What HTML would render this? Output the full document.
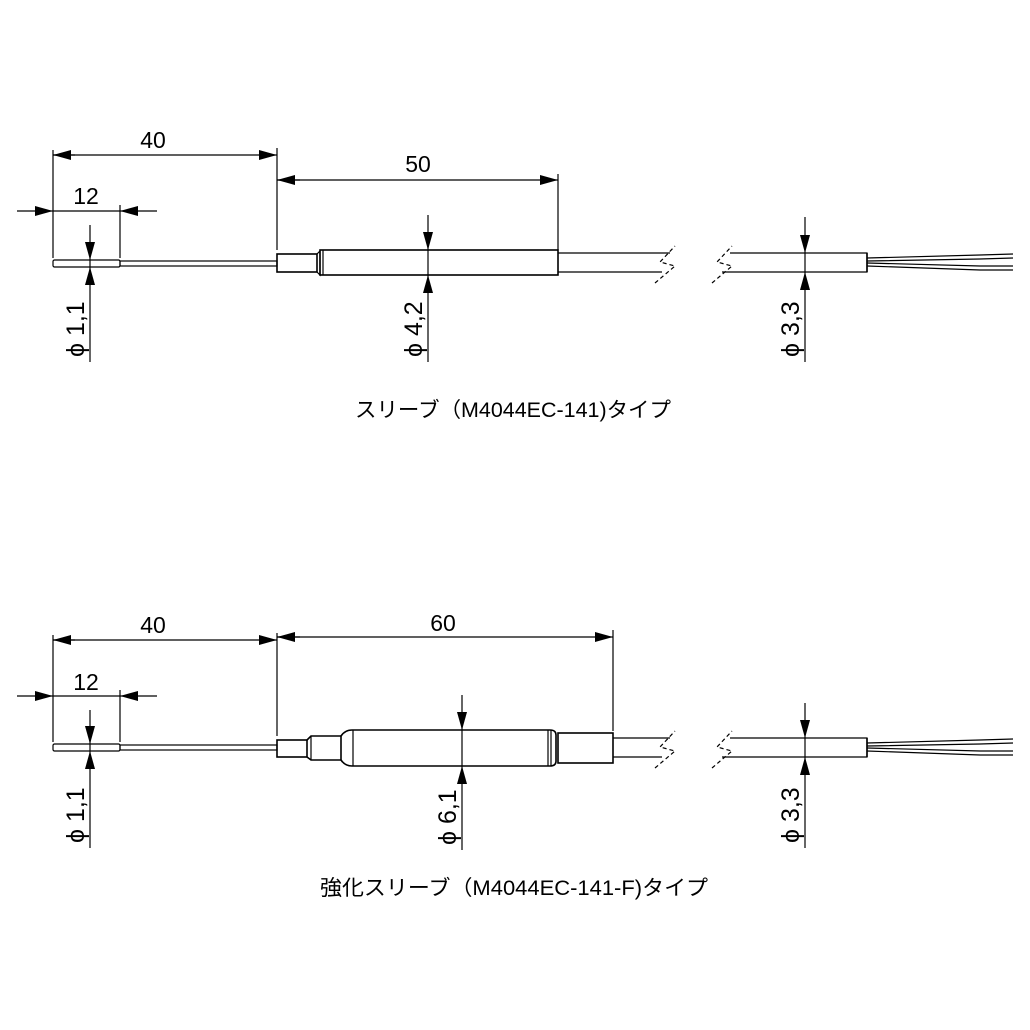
<!DOCTYPE html>
<html><head><meta charset="utf-8"><style>
html,body{margin:0;padding:0;background:#fff;width:1030px;height:1030px;overflow:hidden}
svg text{font-family:"Liberation Sans","Noto Sans CJK JP",sans-serif;fill:#000}
</style></head><body>
<svg width="1030" height="1030" viewBox="0 0 1030 1030" xmlns="http://www.w3.org/2000/svg">
<defs>
<marker id="a" viewBox="0 0 18 10" refX="18" refY="5" markerWidth="18" markerHeight="10" markerUnits="userSpaceOnUse" orient="auto"><path d="M0,0L18,5L0,10z" fill="#000"/></marker>
</defs>
<g stroke="#000" stroke-width="1.2" fill="none">
<!-- ===== TOP ===== -->
<rect x="53" y="260" width="67" height="7" rx="1.5" fill="#fff"/>
<rect x="120" y="261" width="157" height="5"/>
<rect x="277" y="254" width="40" height="18" stroke-width="1.6"/>
<path d="M317,254 L320,251 L320,275 L317,272"/>
<rect x="320" y="250" width="238" height="25" stroke-width="1.6"/>
<line x1="323" y1="250" x2="323" y2="275"/>
<path d="M558,253 L670,253 M558,272 L662,272"/>
<path d="M730,253 L867,253 L867,272 L722,272" />
<line x1="867" y1="253" x2="867" y2="272" stroke-width="1.6"/>
<path d="M655,283 L675,266 L660,262 L675,246" stroke-dasharray="4,3"/>
<path d="M712,283 L732,266 L717,262 L732,246" stroke-dasharray="4,3"/>
<path d="M867,258 L980,255 L1013,254 M867,261 L980,259 L1013,258"/>
<path d="M867,263 L980,266 L1013,266 M867,266 L980,270 L1013,270"/>
<line x1="53" y1="150" x2="53" y2="258"/>
<line x1="277" y1="148" x2="277" y2="250"/>
<line x1="558" y1="174" x2="558" y2="250"/>
<line x1="120" y1="205" x2="120" y2="258"/>
<line x1="75" y1="155" x2="53" y2="155" marker-end="url(#a)"/>
<line x1="53" y1="155" x2="277" y2="155" marker-end="url(#a)"/>
<line x1="300" y1="180" x2="277" y2="180" marker-end="url(#a)"/>
<line x1="277" y1="180" x2="558" y2="180" marker-end="url(#a)"/>
<line x1="17" y1="211" x2="53" y2="211" marker-end="url(#a)"/>
<line x1="157" y1="211" x2="120" y2="211" marker-end="url(#a)"/>
<line x1="53" y1="211" x2="120" y2="211"/>
<line x1="90" y1="225" x2="90" y2="260" marker-end="url(#a)"/>
<line x1="90" y1="362" x2="90" y2="267" marker-end="url(#a)"/>
<line x1="428" y1="215" x2="428" y2="250" marker-end="url(#a)"/>
<line x1="428" y1="362" x2="428" y2="275" marker-end="url(#a)"/>
<line x1="805" y1="217" x2="805" y2="253" marker-end="url(#a)"/>
<line x1="805" y1="362" x2="805" y2="272" marker-end="url(#a)"/>
<line x1="428" y1="250" x2="428" y2="275"/>
<line x1="805" y1="253" x2="805" y2="272"/>
<line x1="90" y1="260" x2="90" y2="267"/>

<!-- ===== BOTTOM ===== -->
<rect x="53" y="744" width="67" height="7" rx="1.5" fill="#fff"/>
<rect x="120" y="745" width="157" height="5"/>
<rect x="277" y="740" width="30" height="17" stroke-width="1.6"/>
<path d="M307,740 L311,736 L341,736 L341,760 L311,760 L307,757" stroke-width="1.6"/>
<line x1="311" y1="736" x2="311" y2="760"/>
<path d="M341,736 Q345,730 352,730 L550,730 Q556,730 556,735 L556,761 Q556,766 550,766 L352,766 Q345,766 341,760" stroke-width="1.6"/>
<line x1="353" y1="730" x2="353" y2="766"/>
<line x1="548" y1="730" x2="548" y2="766"/>
<line x1="551" y1="730" x2="551" y2="766"/>
<rect x="558" y="733" width="55" height="30" stroke-width="1.6"/>
<path d="M613,738 L670,738 M613,757 L662,757"/>
<path d="M730,738 L867,738 L867,757 L722,757"/>
<line x1="867" y1="738" x2="867" y2="757" stroke-width="1.6"/>
<path d="M655,768 L675,751 L660,747 L675,731" stroke-dasharray="4,3"/>
<path d="M712,768 L732,751 L717,747 L732,731" stroke-dasharray="4,3"/>
<path d="M867,743 L980,740 L1013,739 M867,746 L980,744 L1013,743"/>
<path d="M867,748 L980,751 L1013,751 M867,751 L980,755 L1013,755"/>
<line x1="53" y1="635" x2="53" y2="742"/>
<line x1="277" y1="633" x2="277" y2="736"/>
<line x1="613" y1="630" x2="613" y2="731"/>
<line x1="120" y1="690" x2="120" y2="742"/>
<line x1="75" y1="640" x2="53" y2="640" marker-end="url(#a)"/>
<line x1="53" y1="640" x2="277" y2="640" marker-end="url(#a)"/>
<line x1="300" y1="637" x2="277" y2="637" marker-end="url(#a)"/>
<line x1="277" y1="637" x2="613" y2="637" marker-end="url(#a)"/>
<line x1="17" y1="696" x2="53" y2="696" marker-end="url(#a)"/>
<line x1="157" y1="696" x2="120" y2="696" marker-end="url(#a)"/>
<line x1="53" y1="696" x2="120" y2="696"/>
<line x1="90" y1="710" x2="90" y2="744" marker-end="url(#a)"/>
<line x1="90" y1="848" x2="90" y2="751" marker-end="url(#a)"/>
<line x1="462" y1="695" x2="462" y2="730" marker-end="url(#a)"/>
<line x1="462" y1="850" x2="462" y2="766" marker-end="url(#a)"/>
<line x1="805" y1="703" x2="805" y2="738" marker-end="url(#a)"/>
<line x1="805" y1="848" x2="805" y2="757" marker-end="url(#a)"/>
<line x1="462" y1="730" x2="462" y2="766"/>
<line x1="805" y1="738" x2="805" y2="757"/>
<line x1="90" y1="744" x2="90" y2="751"/>
</g>
<g font-size="23">
<text x="153" y="148" text-anchor="middle">40</text>
<text x="418" y="172" text-anchor="middle">50</text>
<text x="86" y="204" text-anchor="middle">12</text>
<text transform="translate(84,357) rotate(-90)" font-size="25">ϕ 1,1</text>
<text transform="translate(422,357) rotate(-90)" font-size="25">ϕ 4,2</text>
<text transform="translate(799,357) rotate(-90)" font-size="25">ϕ 3,3</text>
<text x="153" y="633" text-anchor="middle">40</text>
<text x="443" y="631" text-anchor="middle">60</text>
<text x="86" y="690" text-anchor="middle">12</text>
<text transform="translate(84,843) rotate(-90)" font-size="25">ϕ 1,1</text>
<text transform="translate(456,845) rotate(-90)" font-size="25">ϕ 6,1</text>
<text transform="translate(799,843) rotate(-90)" font-size="25">ϕ 3,3</text>
</g>
<g font-size="21">
<text x="513" y="417" text-anchor="middle" textLength="316" lengthAdjust="spacingAndGlyphs">スリーブ（M4044EC-141)タイプ</text>
<text x="514" y="895" text-anchor="middle" textLength="388" lengthAdjust="spacingAndGlyphs">強化スリーブ（M4044EC-141-F)タイプ</text>
</g>
</svg>
</body></html>
